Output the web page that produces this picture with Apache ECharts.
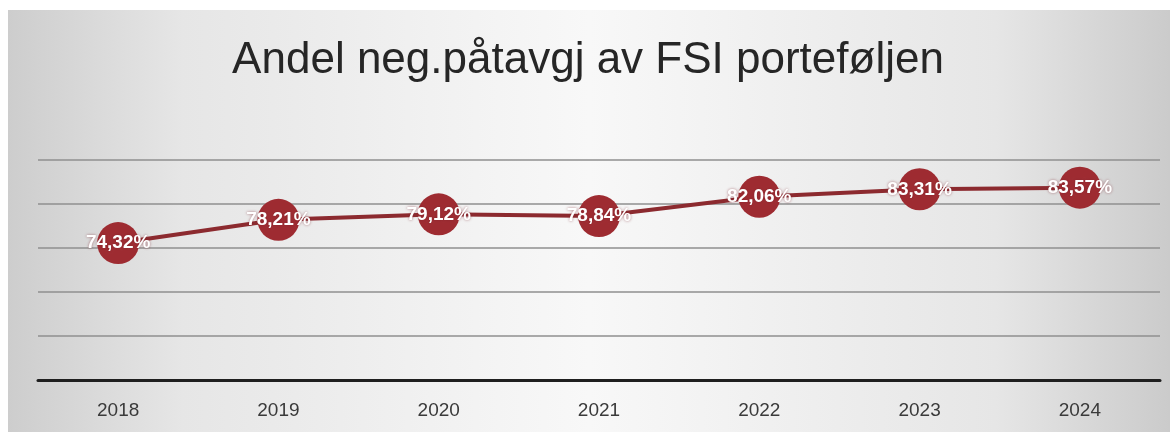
<!DOCTYPE html>
<html>
<head>
<meta charset="utf-8">
<script src="https://cdn.jsdelivr.net/npm/echarts@6/dist/echarts.min.js"></script>
<style>
  html, body { margin: 0; padding: 0; background: #ffffff; }
  #chart { width: 1176px; height: 432px; }
</style>
</head>
<body>
<div id="chart"></div>
<script>
// data
var years = ["2018", "2019", "2020", "2021", "2022", "2023", "2024"];
var andel = [74.32, 78.21, 79.12, 78.84, 82.06, 83.31, 83.57];
var chartTitle = "Andel neg.påtavgj av FSI porteføljen";

var chart = echarts.init(document.getElementById("chart"));

chart.setOption({
  animation: false,
  backgroundColor: "#ffffff",
  // grey frame, lighter in the middle
  graphic: [
    {
      type: "rect",
      z: -10,
      shape: { x: 8, y: 10, width: 1162, height: 422 },
      style: {
        fill: new echarts.graphic.LinearGradient(0, 0, 1, 0, [
          { offset: 0, color: "#cdcdcd" },
          { offset: 0.15, color: "#e6e6e6" },
          { offset: 0.5, color: "#f8f8f8" },
          { offset: 0.85, color: "#e6e6e6" },
          { offset: 1, color: "#cbcbcb" }
        ])
      }
    }
  ],
  title: {
    text: chartTitle,
    left: "center",
    top: 34,
    textStyle: {
      fontFamily: "Liberation Sans",
      fontSize: 44,
      fontWeight: "normal",
      color: "#262626"
    }
  },
  grid: {
    left: 38,
    right: 16,
    top: 160,
    bottom: 52,
    containLabel: false
  },
  xAxis: {
    type: "category",
    data: years,
    boundaryGap: true,
    axisLine: { lineStyle: { color: "#1f1f1f", width: 3 } },
    axisTick: { show: false },
    axisLabel: {
      margin: 21,
      fontFamily: "Liberation Sans",
      fontSize: 19,
      color: "#3a3a3a"
    }
  },
  yAxis: {
    type: "value",
    min: 51.45,
    max: 88.2,
    interval: 7.35,
    axisLine: { show: false },
    axisTick: { show: false },
    axisLabel: { show: false },
    splitLine: { lineStyle: { color: "#8f8f8f", width: 1.5 } }
  },
  series: [
    {
      type: "line",
      data: andel,
      symbol: "circle",
      symbolSize: 42,
      lineStyle: { color: "#8c2a2f", width: 4 },
      itemStyle: { color: "#9e2b31" },
      label: {
        show: true,
        position: "inside",
        formatter: function (p) {
          return p.value.toFixed(2).replace(".", ",") + "%";
        },
        fontFamily: "Liberation Sans",
        fontSize: 19,
        fontWeight: "bold",
        color: "#ffffff",
        textShadowColor: "rgba(120,30,40,0.6)",
        textShadowBlur: 3
      }
    }
  ]
});
</script>
</body>
</html>
